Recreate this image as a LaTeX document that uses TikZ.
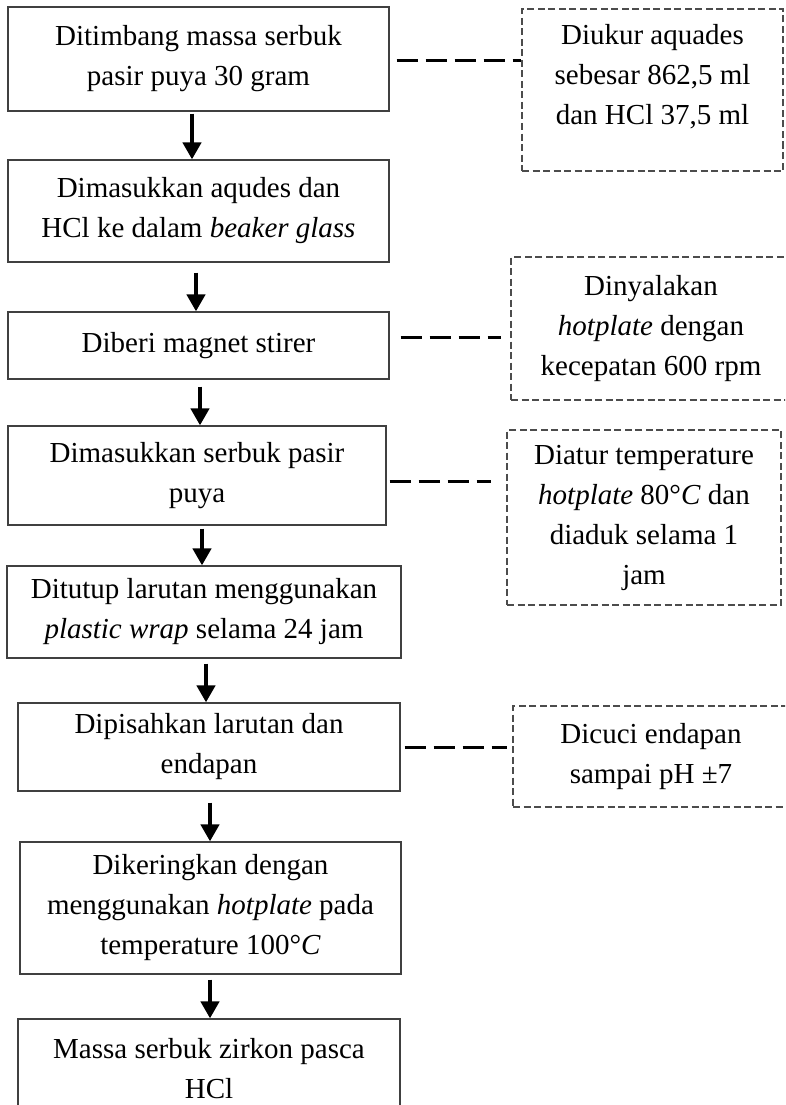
\documentclass[tikz,border=0pt]{standalone}
\usepackage{fontspec}
\setmainfont{Liberation Serif}
\usetikzlibrary{arrows.meta}

\begin{document}
\begin{tikzpicture}[x=1pt, y=-1pt, font=\fontsize{29pt}{40pt}\selectfont]
 % --- styles ---
 \tikzset{
    stepbox/.style={
        rectangle,
        draw=black!75,
        line width=1.2pt,
        align=center,
        inner sep=0pt
    },
    notebox/.style={
        rectangle,
        draw=black!70,
        line width=1.3pt,
        dash pattern=on 7pt off 3.5pt,
        align=center,
        inner sep=0pt
    },
    flow/.style={
        line width=4.5pt,
        -{Triangle[length=17pt, width=18pt]}
    },
    link/.style={
        line width=3pt,
        dash pattern=on 21pt off 8pt
    }
 }

 % --- page frame ---
 \useasboundingbox (0,0) rectangle (785,1105);
 \clip (0,0) rectangle (785,1105);

 % --- main steps ---
 \node[stepbox, minimum width=381pt, minimum height=104pt] (B1) at (198.5,59)
    {Ditimbang massa serbuk\\pasir puya 30 gram};
 \node[stepbox, minimum width=381pt, minimum height=102pt] (B2) at (198.5,211)
    {Dimasukkan aqudes dan\\HCl ke dalam \textit{beaker glass}};
 \node[stepbox, minimum width=381pt, minimum height=67pt] (B3) at (198.5,345.5)
    {Diberi magnet stirer};
 \node[stepbox, minimum width=378pt, minimum height=99pt] (B4) at (197,475.5)
    {Dimasukkan serbuk pasir\\puya};
 \node[stepbox, minimum width=394pt, minimum height=92pt] (B5) at (204,612)
    {Ditutup larutan menggunakan\\\textit{plastic wrap} selama 24 jam};
 \node[stepbox, minimum width=382pt, minimum height=88pt] (B6) at (209,747)
    {Dipisahkan larutan dan\\endapan};
 \node[stepbox, minimum width=381pt, minimum height=132pt] (B7) at (210.5,908)
    {Dikeringkan dengan\\menggunakan \textit{hotplate} pada\\temperature 100°\textit{C}};
 \node[stepbox, minimum width=382pt, minimum height=100pt] (B8) at (209,1069)
    {Massa serbuk zirkon pasca\\HCl};

 % --- side notes ---
 \node[notebox, minimum width=261pt, minimum height=162pt] (D1) at (652.5,90)
    {Diukur aquades\\sebesar 862,5 ml\\dan HCl 37,5 ml\\[-20pt]\strut};
 \node[notebox, minimum width=280pt, minimum height=143pt] (D2) at (651,328.5)
    {Dinyalakan\\\textit{hotplate} dengan\\kecepatan 600 rpm};
 \node[notebox, minimum width=274pt, minimum height=175pt] (D3) at (644,517.5)
    {Diatur temperature\\\textit{hotplate} 80°\textit{C} dan\\diaduk selama 1\\jam};
 \node[notebox, minimum width=276pt, minimum height=101pt] (D4) at (651,756.5)
    {Dicuci endapan\\sampai pH ±7};

 % --- arrows between steps ---
 \draw[flow] ([xshift=-6.5pt,yshift=-2pt]B1.south) -- ([xshift=-6.5pt]B1.south |- B2.north);
 \draw[flow] ([xshift=-2.5pt,yshift=-10pt]B2.south) -- ([xshift=-2.5pt]B2.south |- B3.north);
 \draw[flow] ([xshift=1.5pt,yshift=-7pt]B3.south) -- ([xshift=1.5pt]B3.south |- B4.north);
 \draw[flow] ([xshift=5pt,yshift=-3pt]B4.south) -- ([xshift=5pt]B4.south |- B5.north);
 \draw[flow] ([xshift=2pt,yshift=-5pt]B5.south) -- ([xshift=2pt]B5.south |- B6.north);
 \draw[flow] ([xshift=1pt,yshift=-11pt]B6.south) -- ([xshift=1pt]B6.south |- B7.north);
 \draw[flow] ([xshift=-0.5pt,yshift=-5pt]B7.south) -- ([xshift=-0.5pt]B7.south |- B8.north);

 % --- dashed links to the notes ---
 \draw[link, shorten <=7pt] ([yshift=-2pt]B1.east) -- ([yshift=-2pt]B1.east -| D1.west);
 \draw[link, shorten <=11pt, shorten >=9pt] ([yshift=8pt]B3.east) -- ([yshift=8pt]B3.east -| D2.west);
 \draw[link, shorten <=3pt, shorten >=15pt] ([yshift=-5.5pt]B4.east) -- ([yshift=-5.5pt]B4.east -| D3.west);
 \draw[link, shorten <=4pt, shorten >=5pt] (B6.east) -- (B6.east -| D4.west);
\end{tikzpicture}
\end{document}
